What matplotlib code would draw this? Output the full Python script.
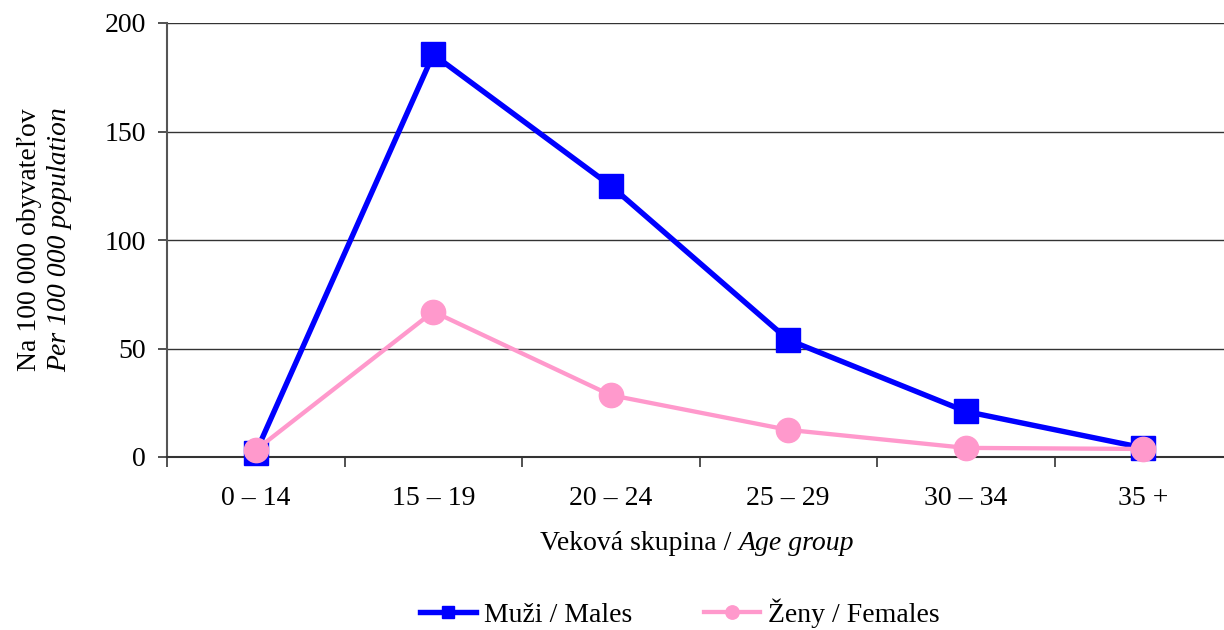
import matplotlib
matplotlib.use("Agg")
import matplotlib.pyplot as plt
import numpy as np

categories = ["0 – 14", "15 – 19", "20 – 24", "25 – 29", "30 – 34", "35 +"]
males = [2.0, 185.5, 125.0, 54.0, 21.0, 4.2]
females = [3.2, 67.0, 28.5, 12.5, 4.2, 3.7]
yticks = [0, 50, 100, 150, 200]

plt.rcParams['font.family'] = ['Liberation Serif', 'DejaVu Serif']
FS = 20

fig = plt.figure(figsize=(12.24, 6.30), dpi=100)
ax = fig.add_axes([167/1224, 173/630, 1065/1224, 434/630])

x = np.arange(1, len(categories) + 1)
ax.plot(x, males, color='#0000FF', lw=3.9, marker='s', ms=17, mfc='#0000FF',
        mec='#0000FF', label='Muži / Males', zorder=3, clip_on=False)
ax.plot(x, females, color='#FF99CC', lw=3.1, marker='o', ms=17.5, mfc='#FF99CC',
        mec='#FF99CC', label='Ženy / Females', zorder=4, clip_on=False)

ax.set_xlim(0.5, len(categories) + 0.5)
ax.set_ylim(0, 200)
ax.set_yticks(yticks)
ax.set_yticklabels([str(v) for v in yticks], fontsize=FS)
ax.set_xticks(np.arange(0.5, len(categories) + 1, 1.0))
ax.set_xticklabels([])
ax.set_xticks(x, minor=True)
ax.set_xticklabels(categories, minor=True, fontsize=FS)
ax.tick_params(axis='x', which='minor', length=0, pad=21)
ax.tick_params(axis='x', which='major', length=7, width=1.2, color='#333333', direction='out')
ax.tick_params(axis='y', length=6.5, width=1.2, color='#333333', direction='out', pad=8.5)

ax.grid(axis='y', color='#333333', lw=1.0)
ax.set_axisbelow(True)
for s in ['top', 'right']:
    ax.spines[s].set_visible(False)
ax.spines['left'].set_color('#555555')
ax.spines['left'].set_linewidth(1.5)
ax.spines['bottom'].set_color('#333333')
ax.spines['bottom'].set_linewidth(1.5)

# y label (two lines, second italic)
fig.text(30/1224, 1 - 240/630, "Na 100 000 obyvateľov", rotation=90, fontsize=FS,
         ha='center', va='center')
fig.text(60/1224, 1 - 240/630, "Per 100 000 population", rotation=90, fontsize=FS,
         style='italic', ha='center', va='center')

# x label with mixed style
fig.canvas.draw()
renderer = fig.canvas.get_renderer()
t1 = fig.text(0, 1 - 543/630, "Veková skupina / ", fontsize=FS, ha='left', va='center')
t2 = fig.text(0, 1 - 543/630, "Age group", fontsize=FS, style='italic', ha='left', va='center')
w1 = t1.get_window_extent(renderer).width
w2 = t2.get_window_extent(renderer).width
start = 697 - (w1 + w2) / 2
t1.set_x(start / 1224)
t2.set_x((start + w1) / 1224)

fig.legend(loc='center', bbox_to_anchor=(680/1224, 1 - 613/630), ncol=2, frameon=False,
           fontsize=FS, handlelength=2.0, handletextpad=0.3, columnspacing=2.6,
           markerscale=0.55)

fig.savefig("out.png", dpi=100)
